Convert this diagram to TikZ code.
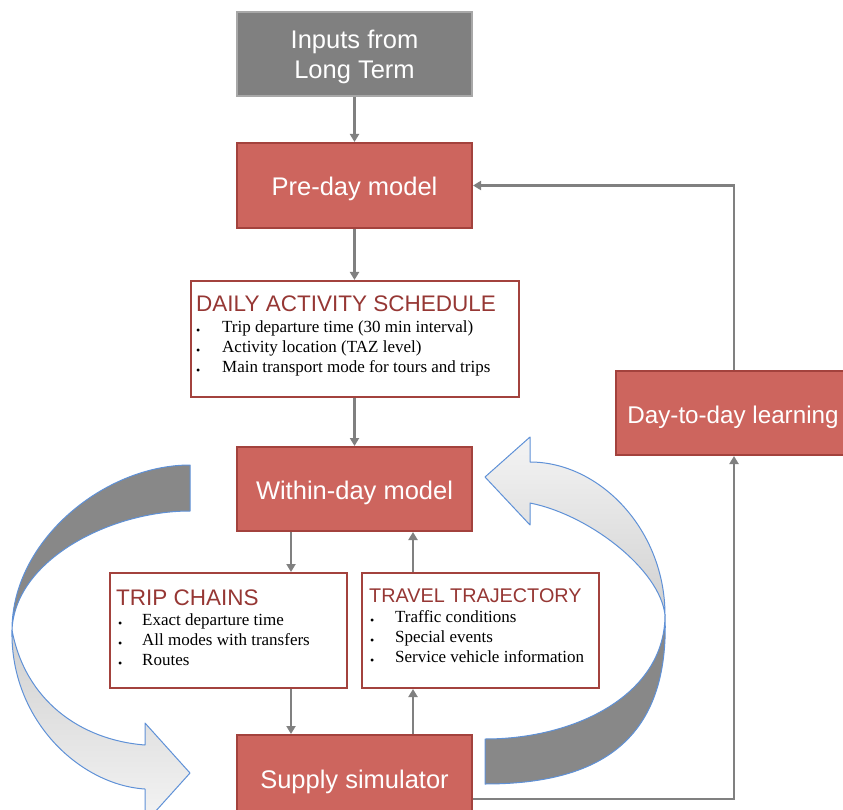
\documentclass[tikz,border=0pt]{standalone}
\usepackage{fontspec}
\setmainfont{Liberation Serif}
\setsansfont{Liberation Sans}
\usetikzlibrary{arrows.meta,calc}
\definecolor{boxred}{RGB}{205,101,94}
\definecolor{boxedge}{RGB}{163,66,61}
\definecolor{titred}{RGB}{150,55,52}
\definecolor{conngray}{RGB}{128,128,128}
\definecolor{ingray}{RGB}{128,128,128}
\definecolor{inedge}{RGB}{168,168,168}
\definecolor{bandedge}{RGB}{95,145,215}
\definecolor{banddark}{RGB}{136,136,136}
\definecolor{lightA}{RGB}{208,208,208}
\definecolor{lightB}{RGB}{244,244,244}
\begin{document}
\begin{tikzpicture}[x=1pt,y=-1pt,
  basebox/.style={line width=2pt, text=white,
    font=\sffamily\fontsize{25.5}{30}\selectfont, minimum width=235pt,
    minimum height=85pt, inner sep=0pt, align=center},
  redbox/.style={basebox, draw=boxedge, fill=boxred, text height=26pt, text depth=5pt},
  graybox/.style={basebox, draw=inedge, fill=ingray, text depth=0pt},
  listbox/.style={draw=boxedge, line width=2pt, fill=white, inner sep=0pt},
  boxtitle/.style={anchor=base west, inner sep=0pt, text=titred,
    font=\sffamily\fontsize{22.5}{26}\selectfont},
  item/.style={anchor=base west, inner sep=0pt, font=\fontsize{17}{20}\selectfont},
  dot/.style={anchor=base west, inner sep=0pt, font=\fontsize{12}{12}\selectfont},
  conn/.style={draw=conngray, line width=2.5pt, -{Triangle[length=8pt,width=9pt]}},
  band/.style={draw=bandedge, line width=1pt, line join=round}
]
\useasboundingbox (0,0) rectangle (843,810);

% ---- curved arrows (drawn directly) ----
% left one
\path[band, fill=banddark] (190,465) .. controls (105,465) and (12,540) .. (12,630)
  .. controls (15,560) and (110,511) .. (190,511) -- cycle;
\path[band, top color=lightA, bottom color=lightB] (12,630) .. controls (10,720) and (80,785) .. (145,789)
  -- (145,823) -- (190,773) -- (145,723) -- (145,745)
  .. controls (80,740) and (25,700) .. (12,630) -- cycle;
% right one
\path[band, fill=banddark] (485,739) .. controls (575,739) and (665,695) .. (665,615)
  .. controls (670,740) and (600,784) .. (485,784) -- cycle;
\path[band, top color=lightB, bottom color=lightA] (665,615) .. controls (665,530) and (600,462) .. (530,462)
  -- (530,437) -- (485,477) -- (530,525) -- (530,503)
  .. controls (590,515) and (660,570) .. (665,615) -- cycle;

% ---- boxes ----
\node[graybox, minimum height=84pt] (inputs) at (354.5,54) {Inputs from\\Long Term};
\node[redbox] (preday) at (354.5,185.5) {Pre-day model};
\node[listbox, minimum width=328pt, minimum height=116pt] (daily) at (354.5,339) {};
\node[redbox, minimum height=84pt] (within) at (354.5,489) {Within-day model};
\node[listbox, minimum width=237pt, minimum height=115pt] (trip) at (228.5,630.5) {};
\node[listbox, minimum width=237pt, minimum height=115pt] (travel) at (480.5,630.5) {};
\node[redbox] (supply) at (354.5,777.5) {Supply simulator};
\node[redbox, minimum width=236pt, minimum height=84pt,
  font=\sffamily\fontsize{24.2}{30}\selectfont] (dtd) at (734,413) {\hspace*{-2pt}Day-to-day learning};

% ---- box texts ----
\node[boxtitle] (dailyT) at (196,311) {DAILY ACTIVITY SCHEDULE};
\node[dot] (dailyB1) at (196,334) {\textbullet};
\node[dot] (dailyB2) at (196,354) {\textbullet};
\node[dot] (dailyB3) at (196,374) {\textbullet};
\node[item] (dailyI1) at (222,332) {Trip departure time (30 min interval)};
\node[item] (dailyI2) at (222,352) {Activity location (TAZ level)};
\node[item] (dailyI3) at (222,372) {Main transport mode for tours and trips};

\node[boxtitle] (tripT) at (116,605) {TRIP CHAINS};
\node[dot] (tripB1) at (118,627) {\textbullet};
\node[dot] (tripB2) at (118,647) {\textbullet};
\node[dot] (tripB3) at (118,667) {\textbullet};
\node[item] (tripI1) at (142,625) {Exact departure time};
\node[item] (tripI2) at (142,645) {All modes with transfers};
\node[item] (tripI3) at (142,665) {Routes};

\node[boxtitle, font=\sffamily\fontsize{19.8}{24}\selectfont] (travelT) at (369,602) {TRAVEL TRAJECTORY};
\node[dot] (travelB1) at (370,624) {\textbullet};
\node[dot] (travelB2) at (370,644) {\textbullet};
\node[dot] (travelB3) at (370,664) {\textbullet};
\node[item] (travelI1) at (395,622) {Traffic conditions};
\node[item] (travelI2) at (395,642) {Special events};
\node[item] (travelI3) at (395,662) {Service vehicle information};

% ---- connectors ----
\draw[conn] (inputs.south) -- (preday.north);
\draw[conn] (preday.south) -- (daily.north);
\draw[conn] (daily.south) -- (within.north);
\draw[conn] ([xshift=-63.5pt]within.south) -- ([xshift=-63.5pt]within.south |- trip.north);
\draw[conn] ([xshift=58.5pt]within.south |- travel.north) -- ([xshift=58.5pt]within.south);
\draw[conn] ([xshift=-63.5pt]within.south |- trip.south) -- ([xshift=-63.5pt]within.south |- supply.north);
\draw[conn] ([xshift=58.5pt]within.south |- supply.north) -- ([xshift=58.5pt]within.south |- travel.south);
\draw[conn] ([yshift=-21.5pt]supply.east) -| (dtd.south);
\draw[conn] (dtd.north) |- (preday.east);
\end{tikzpicture}
\end{document}
